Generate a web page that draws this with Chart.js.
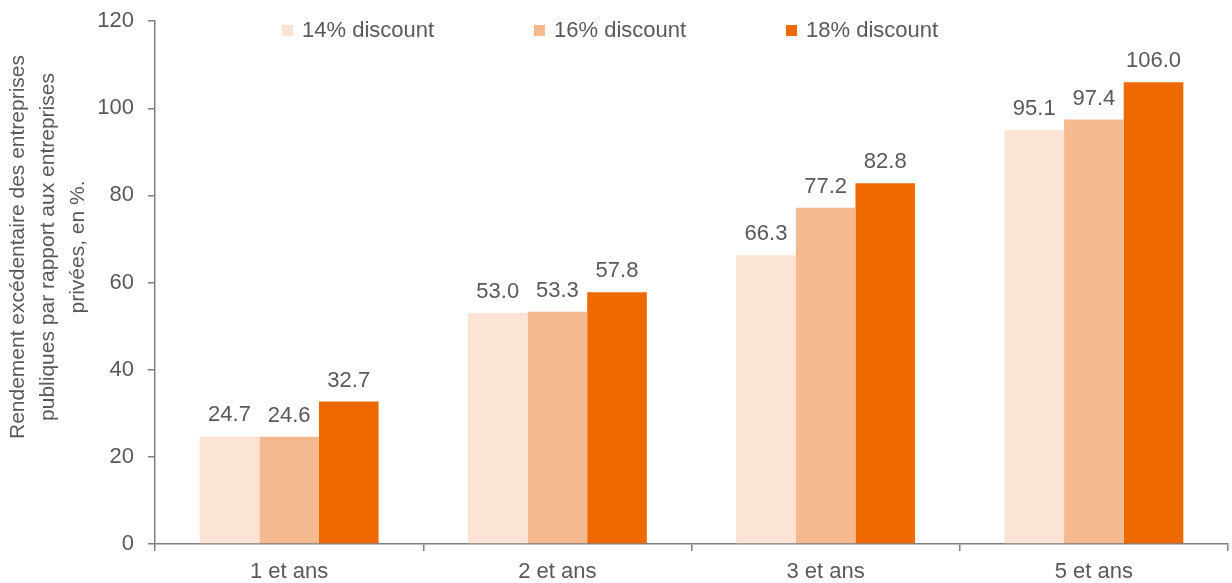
<!DOCTYPE html>
<html>
<head>
<meta charset="utf-8">
<script src="https://cdn.jsdelivr.net/npm/chart.js@4/dist/chart.umd.min.js"></script>
<style>
  body { margin: 0; background: #fff; }
  #chart { display: block; }
</style>
</head>
<body>
<canvas id="chart" width="1232" height="583"></canvas>
<script>
const categories = ['1 et ans', '2 et ans', '3 et ans', '5 et ans'];
const seriesLabels = ['14% discount', '16% discount', '18% discount'];
const discount14 = [24.7, 53.0, 66.3, 95.1];
const discount16 = [24.6, 53.3, 77.2, 97.4];
const discount18 = [32.7, 57.8, 82.8, 106.0];
const yTitle = ['Rendement excédentaire des entreprises', 'publiques par rapport aux entreprises', 'privées, en %.'];

const colors = ['#FBE4D5', '#F4B98F', '#EE6A00'];
const textColor = '#595959';
const axisColor = '#7f7f7f';
const font = 'Liberation Sans, Arial, sans-serif';

// value labels above each bar
const valueLabels = {
    id: 'valueLabels',
    afterDatasetsDraw(chart) {
        const ctx = chart.ctx;
        ctx.save();
        ctx.font = '22px ' + font;
        ctx.fillStyle = textColor;
        ctx.textAlign = 'center';
        ctx.textBaseline = 'alphabetic';
        chart.data.datasets.forEach((ds, i) => {
            chart.getDatasetMeta(i).data.forEach((bar, j) => {
                ctx.fillText(ds.data[j].toFixed(1), bar.x, bar.y - 15);
            });
        });
        ctx.restore();
    }
};

// legend inside the plot area + y title sitting a bit above the middle
const extras = {
    id: 'extras',
    afterDraw(chart) {
        const ctx = chart.ctx;
        ctx.save();
        ctx.font = '22px ' + font;
        ctx.textBaseline = 'middle';
        ctx.textAlign = 'left';
        chart.data.datasets.forEach((ds, i) => {
            const x = 282 + i * 252;
            ctx.fillStyle = ds.backgroundColor;
            ctx.fillRect(x, 25, 11, 11);
            ctx.fillStyle = textColor;
            ctx.fillText(ds.label, x + 20, 31);
        });

        ctx.font = '21px ' + font;
        ctx.fillStyle = textColor;
        ctx.textAlign = 'center';
        ctx.translate(48, 247);
        ctx.rotate(-Math.PI / 2);
        yTitle.forEach((line, k) => {
            ctx.fillText(line, 0, (k - 1) * 30);
        });
        ctx.restore();
    }
};

const config = {
    type: 'bar',
    data: {
        labels: categories,
        datasets: [
            { label: seriesLabels[0], data: discount14, backgroundColor: colors[0] },
            { label: seriesLabels[1], data: discount16, backgroundColor: colors[1] },
            { label: seriesLabels[2], data: discount18, backgroundColor: colors[2] }
        ]
    },
    options: {
        responsive: false,
        animation: false,
        devicePixelRatio: 1,
        categoryPercentage: 0.667,
        barPercentage: 1.0,
        layout: { padding: { top: 0, right: 4, bottom: 0, left: 0 } },
        plugins: {
            legend: { display: false },
            tooltip: { enabled: false }
        },
        scales: {
            x: {
                offset: true,
                afterFit(scale) { scale.height = 39; },
                grid: {
                    offset: true,
                    drawOnChartArea: false,
                    drawTicks: true,
                    tickLength: 7,
                    color: axisColor,
                    lineWidth: 1.5
                },
                border: { color: axisColor, width: 1.5 },
                ticks: { color: textColor, font: { family: font, size: 22 }, padding: 8 }
            },
            y: {
                min: 0,
                max: 120,
                afterFit(scale) { scale.width = 155; },
                ticks: {
                    stepSize: 20,
                    color: textColor,
                    font: { family: font, size: 22, lineHeight: 0.65 },
                    padding: 14
                },
                grid: {
                    drawOnChartArea: false,
                    tickLength: 7,
                    color: axisColor,
                    lineWidth: 1.5
                },
                border: { color: axisColor, width: 1.5 },
                title: { display: false }
            }
        }
    },
    plugins: [valueLabels, extras]
};

const chart = new Chart(document.getElementById('chart'), config);
</script>
</body>
</html>
